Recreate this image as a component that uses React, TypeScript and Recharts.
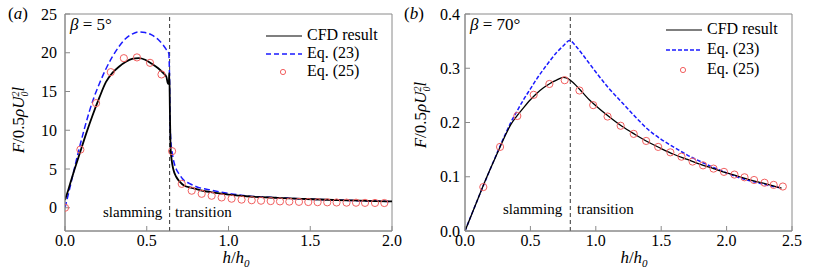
import React from "react";
import {
  ComposedChart,
  Line,
  Scatter,
  XAxis,
  YAxis,
  ReferenceArea,
  ReferenceLine,
} from "recharts";

const SERIF = "'Liberation Serif', 'Times New Roman', serif";
const FRAME = "#8a8a8a";
const BLUE = "#1a1aff";
const RED = "#f26060";

// ---- panel (a): beta = 5 deg ----
const cfdAX = [0, 0.02, 0.05, 0.09, 0.13, 0.17, 0.21, 0.25, 0.29, 0.33, 0.37, 0.41, 0.45, 0.49, 0.53, 0.57, 0.6, 0.62, 0.63, 0.635, 0.638, 0.642, 0.646, 0.652, 0.662, 0.68, 0.7, 0.73, 0.77, 0.83, 0.9, 1.0, 1.13, 1.3, 1.45, 1.6, 1.75, 1.9, 2.0];
const cfdAY = [1.0, 2.3, 4.4, 7.0, 9.6, 12.0, 14.2, 16.2, 17.4, 18.2, 18.8, 19.2, 19.3, 19.1, 18.6, 18.0, 17.4, 16.9, 16.0, 16.1, 17.4, 12.0, 7.6, 6.2, 5.0, 4.0, 3.4, 2.85, 2.6, 2.25, 1.98, 1.7, 1.45, 1.28, 1.15, 1.03, 0.94, 0.86, 0.81];

const eq23AX = [0, 0.03, 0.06, 0.09, 0.12, 0.15, 0.18, 0.21, 0.25, 0.29, 0.33, 0.37, 0.41, 0.45, 0.49, 0.53, 0.57, 0.6, 0.62, 0.635, 0.64, 0.643, 0.648, 0.655, 0.665, 0.68, 0.7, 0.72, 0.76, 0.8, 0.9, 1.0, 1.13, 1.3, 1.6, 2.0];
const eq23AY = [0, 2.6, 5.3, 7.9, 10.3, 12.5, 14.4, 16.0, 17.9, 19.5, 20.8, 21.8, 22.4, 22.7, 22.6, 22.3, 21.7, 21.0, 20.4, 19.9, 16.0, 11.0, 8.5, 7.2, 6.0, 5.0, 4.3, 3.7, 3.15, 2.75, 2.25, 1.85, 1.5, 1.3, 1.03, 0.81];

const eq25AX = [0, 0.094, 0.19, 0.28, 0.36, 0.44, 0.52, 0.59, 0.655, 0.714, 0.775, 0.836, 0.897, 0.958, 1.019, 1.08, 1.142, 1.199, 1.258, 1.315, 1.372, 1.431, 1.488, 1.545, 1.604, 1.661, 1.722, 1.78, 1.835, 1.896, 1.953];
const eq25AY = [0, 7.5, 13.5, 17.5, 19.3, 19.4, 18.7, 17.2, 7.3, 3.08, 2.2, 1.8, 1.55, 1.33, 1.17, 1.05, 0.97, 0.91, 0.86, 0.82, 0.79, 0.76, 0.74, 0.72, 0.7, 0.68, 0.66, 0.65, 0.63, 0.62, 0.61];

const xTicksA = [0, 0.5, 1, 1.5, 2];
const yTicksA = [0, 5, 10, 15, 20, 25];

// ---- panel (b): beta = 70 deg ----
const cfdBX = [0, 0.05, 0.1, 0.15, 0.2, 0.25, 0.3, 0.35, 0.4, 0.45, 0.5, 0.55, 0.6, 0.65, 0.7, 0.75, 0.78, 0.81, 0.85, 0.9, 0.95, 1.0, 1.1, 1.2, 1.3, 1.4, 1.5, 1.6, 1.7, 1.8, 1.9, 2.0, 2.1, 2.2, 2.3, 2.42];
const cfdBY = [0, 0.03, 0.06, 0.09, 0.118, 0.145, 0.172, 0.196, 0.213, 0.228, 0.242, 0.254, 0.264, 0.272, 0.278, 0.283, 0.282, 0.277, 0.268, 0.255, 0.242, 0.231, 0.211, 0.193, 0.178, 0.164, 0.152, 0.141, 0.132, 0.123, 0.115, 0.107, 0.1, 0.093, 0.087, 0.079];

const eq23BX = [0, 0.1, 0.2, 0.3, 0.35, 0.4, 0.45, 0.5, 0.55, 0.6, 0.65, 0.7, 0.75, 0.8, 0.85, 0.9, 0.95, 1.0, 1.1, 1.2, 1.3, 1.4, 1.5, 1.6, 1.7, 1.8, 1.9, 2.0, 2.1, 2.2, 2.3, 2.42];
const eq23BY = [0, 0.06, 0.118, 0.174, 0.2, 0.222, 0.243, 0.262, 0.281, 0.298, 0.314, 0.329, 0.341, 0.351, 0.34, 0.325, 0.309, 0.293, 0.263, 0.237, 0.211, 0.187, 0.169, 0.154, 0.14, 0.128, 0.117, 0.107, 0.098, 0.091, 0.085, 0.079];

const eq25BX = [0.14, 0.268, 0.4, 0.525, 0.645, 0.762, 0.875, 0.98, 1.09, 1.19, 1.29, 1.385, 1.477, 1.57, 1.655, 1.74, 1.82, 1.9, 1.98, 2.06, 2.137, 2.21, 2.29, 2.36, 2.43];
const eq25BY = [0.081, 0.155, 0.212, 0.251, 0.271, 0.278, 0.259, 0.232, 0.211, 0.194, 0.179, 0.166, 0.155, 0.145, 0.137, 0.128, 0.121, 0.115, 0.109, 0.104, 0.099, 0.094, 0.089, 0.085, 0.082];

const xTicksB = [0, 0.5, 1, 1.5, 2, 2.5];
const yTicksB = [0, 0.1, 0.2, 0.3, 0.4];

const zip = (xs: number[], ys: number[]) => xs.map((x, i) => ({ x, y: ys[i] }));

const tickStyle = { fill: "#000", fontSize: 16, fontFamily: SERIF };

function Ring(props: any) {
  const { cx, cy } = props;
  if (cx == null || cy == null) return null;
  return <circle cx={cx} cy={cy} r={3.6} fill="none" stroke={RED} strokeWidth={1} />;
}

function Panel({
  width,
  marginRight,
  xDomain,
  yDomain,
  xTicks,
  yTicks,
  yFmt,
  yTickMargin,
  split,
  cfd,
  eq23,
  eq25,
  cfdWidth,
  dash,
}: {
  width: number;
  marginRight: number;
  xDomain: [number, number];
  yDomain: [number, number];
  xTicks: number[];
  yTicks: number[];
  yFmt: (v: number) => string;
  yTickMargin: number;
  split: number;
  cfd: { x: number; y: number }[];
  eq23: { x: number; y: number }[];
  eq25: { x: number; y: number }[];
  cfdWidth: number;
  dash: string;
}) {
  // axes get 1px of room (a 0px axis is not drawn at all)
  return (
    <ComposedChart width={width} height={273} margin={{ top: 14, right: marginRight, bottom: 41, left: 64 }}>
      <XAxis
        type="number"
        dataKey="x"
        domain={xDomain}
        ticks={xTicks}
        tickFormatter={(v: number) => v.toFixed(1)}
        height={1}
        tickSize={-5}
        tickMargin={9}
        tick={tickStyle}
        stroke={FRAME}
        allowDataOverflow
        interval={0}
      />
      <YAxis
        type="number"
        dataKey="y"
        domain={yDomain}
        ticks={yTicks}
        tickFormatter={yFmt}
        width={1}
        tickSize={-5}
        tickMargin={yTickMargin}
        tick={tickStyle}
        stroke={FRAME}
        allowDataOverflow
        interval={0}
      />
      <ReferenceArea x1={xDomain[0]} x2={xDomain[1]} y1={yDomain[0]} y2={yDomain[1]} fill="none" stroke={FRAME} strokeWidth={1} />
      <ReferenceLine x={split} stroke="#333" strokeDasharray="4 3" strokeWidth={1} />
      <Line data={eq23} dataKey="y" type="monotone" stroke={BLUE} strokeWidth={1.5} strokeDasharray={dash} dot={false} isAnimationActive={false} />
      <Line data={cfd} dataKey="y" type="monotone" stroke="#000" strokeWidth={cfdWidth} dot={false} isAnimationActive={false} />
      <Scatter data={eq25} dataKey="y" shape={Ring} isAnimationActive={false} />
    </ComposedChart>
  );
}

const abs = (left: number, top: number, extra: React.CSSProperties = {}): React.CSSProperties => ({
  position: "absolute",
  left,
  top,
  whiteSpace: "nowrap",
  fontFamily: SERIF,
  ...extra,
});

function YLabel({ cx, cy }: { cx: number; cy: number }) {
  return (
    <div
      style={abs(cx, cy, {
        fontSize: 17,
        lineHeight: "17px",
        transform: "translate(-50%, -50%) rotate(-90deg)",
      })}
    >
      <i>F</i>/0.5<i>ρU</i>
      <span style={{ display: "inline-flex", flexDirection: "column", fontSize: 10, lineHeight: "9px", verticalAlign: "middle", fontStyle: "italic" }}>
        <span>2</span>
        <span>0</span>
      </span>
      <i>l</i>
    </div>
  );
}

function XLabel({ cx, cy }: { cx: number; cy: number }) {
  return (
    <div style={abs(cx, cy, { fontSize: 17, lineHeight: "13px", transform: "translate(-50%, -50%)" })}>
      <i>h</i>/<i>h</i>
      <sub style={{ fontSize: 11, fontStyle: "italic", lineHeight: "8px" }}>0</sub>
    </div>
  );
}

function Legend({ left, rows, dash }: { left: number; rows: number[]; dash: string }) {
  const text = { fontSize: 16, lineHeight: "16px" };
  return (
    <>
      <svg style={{ position: "absolute", left, top: 0, overflow: "visible" }} width={38} height={90}>
        <line x1={0} x2={36} y1={rows[0]} y2={rows[0]} stroke="#000" strokeWidth={1.2} />
        <line x1={0} x2={36} y1={rows[1]} y2={rows[1]} stroke={BLUE} strokeWidth={1.5} strokeDasharray={dash} />
        <circle cx={17} cy={rows[2]} r={2.6} fill="none" stroke={RED} strokeWidth={1} />
      </svg>
      <div style={abs(left + 41, rows[0] - 9, text)}>CFD result</div>
      <div style={abs(left + 41, rows[1] - 9, text)}>Eq. (23)</div>
      <div style={abs(left + 41, rows[2] - 9, text)}>Eq. (25)</div>
    </>
  );
}

export default function App() {
  return (
    <div style={{ position: "absolute", left: 0, top: 0, width: 817, height: 273, background: "#fff", overflow: "hidden", fontFamily: SERIF }}>
      <div style={{ position: "absolute", left: 0, top: 0 }}>
        <Panel
          width={415}
          marginRight={23}
          xDomain={[0, 2]}
          yDomain={[-3, 25]}
          xTicks={xTicksA}
          yTicks={yTicksA}
          yFmt={(v) => String(v)}
          yTickMargin={13}
          split={0.64}
          cfd={zip(cfdAX, cfdAY)}
          eq23={zip(eq23AX, eq23AY)}
          eq25={zip(eq25AX, eq25AY)}
          cfdWidth={1.8}
          dash="6 3"
        />
      </div>
      <div style={{ position: "absolute", left: 400, top: 0 }}>
        <Panel
          width={417}
          marginRight={25}
          xDomain={[0, 2.5]}
          yDomain={[0, 0.4]}
          xTicks={xTicksB}
          yTicks={yTicksB}
          yFmt={(v) => v.toFixed(1)}
          yTickMargin={10}
          split={0.805}
          cfd={zip(cfdBX, cfdBY)}
          eq23={zip(eq23BX, eq23BY)}
          eq25={zip(eq25BX, eq25BY)}
          cfdWidth={1.3}
          dash="4 2"
        />
      </div>

      <div style={abs(8, 5, { fontSize: 17, lineHeight: "17px" })}>(<i>a</i>)</div>
      <div style={abs(404, 5, { fontSize: 17, lineHeight: "17px" })}>(<i>b</i>)</div>

      <div style={abs(70, 16, { fontSize: 17, lineHeight: "17px" })}><i>β</i> = 5°</div>
      <div style={abs(470, 16, { fontSize: 17, lineHeight: "17px" })}><i>β</i> = 70°</div>

      <div style={abs(103, 205, { fontSize: 15, lineHeight: "15px" })}>slamming</div>
      <div style={abs(175, 205, { fontSize: 15, lineHeight: "15px" })}>transition</div>
      <div style={abs(503, 202, { fontSize: 15, lineHeight: "15px" })}>slamming</div>
      <div style={abs(577, 202, { fontSize: 15, lineHeight: "15px" })}>transition</div>

      <Legend left={266} rows={[36, 54, 72]} dash="5 3" />
      <Legend left={666} rows={[30, 50, 70]} dash="4 2" />

      <YLabel cx={20} cy={120} />
      <YLabel cx={422} cy={115} />
      <XLabel cx={236} cy={259} />
      <XLabel cx={634} cy={259} />
    </div>
  );
}
